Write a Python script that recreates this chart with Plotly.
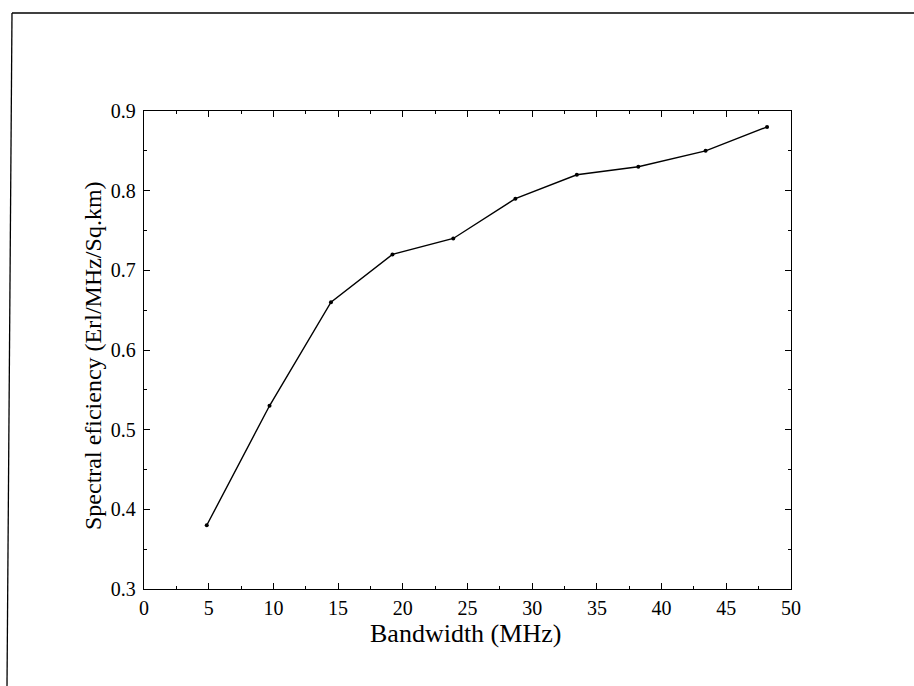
import plotly.graph_objects as go

# Spectral efficiency measured against allocated bandwidth
bandwidth_mhz = [4.85, 9.7, 14.45, 19.2, 23.9, 28.7, 33.45, 38.2, 43.4, 48.15]
spectral_eff = [0.38, 0.53, 0.66, 0.72, 0.74, 0.79, 0.82, 0.83, 0.85, 0.88]

x_ticks = [0, 5, 10, 15, 20, 25, 30, 35, 40, 45, 50]
y_ticks = [0.3, 0.4, 0.5, 0.6, 0.7, 0.8, 0.9]

W, H = 914, 686
L, R, T, B = 144, 791, 111, 589  # plot area edges in pixels

FONT = "Liberation Serif"

fig = go.Figure()
fig.add_trace(go.Scatter(
    x=bandwidth_mhz, y=spectral_eff,
    mode="lines+markers",
    line=dict(color="black", width=1.4),
    marker=dict(color="black", size=4),
    showlegend=False,
))

axis_common = dict(
    showgrid=False, zeroline=False,
    showline=True, linecolor="black", linewidth=1.3,
    mirror="allticks", ticks="inside", ticklen=6, tickcolor="black", tickwidth=1,
    tickfont=dict(family=FONT, size=20, color="black"),
)

fig.update_xaxes(
    range=[0, 50], tickvals=x_ticks,
    minor=dict(dtick=2.5, ticks="inside", ticklen=3, tickcolor="black"),
    ticklabelstandoff=1,
    **axis_common,
)
fig.update_yaxes(
    range=[0.3, 0.9], tickvals=y_ticks, tickformat=".1f",
    minor=dict(dtick=0.05, ticks="inside", ticklen=3, tickcolor="black"),
    ticklabelstandoff=3,
    **axis_common,
)


def px_x(p):
    return (p - L) / (R - L)


def px_y(p):
    return (B - p) / (B - T)


# Axis titles
fig.add_annotation(text="Bandwidth (MHz)", xref="paper", yref="paper",
                   x=px_x(465), y=px_y(633), xanchor="center", yanchor="middle",
                   showarrow=False,
                   font=dict(family=FONT, size=26, color="black"))
fig.add_annotation(text="Spectral eficiency (Erl/MHz/Sq.km)", xref="paper", yref="paper",
                   x=px_x(93), y=px_y(356), xanchor="center", yanchor="middle",
                   showarrow=False, textangle=-90,
                   font=dict(family=FONT, size=24, color="black"))

# Page frame lines along the top and left edges
fig.add_shape(type="line", xref="paper", yref="paper",
              x0=px_x(12), y0=px_y(13), x1=px_x(914), y1=px_y(13),
              line=dict(color="black", width=1.3))
fig.add_shape(type="line", xref="paper", yref="paper",
              x0=px_x(12), y0=px_y(13), x1=px_x(7), y1=px_y(686),
              line=dict(color="black", width=1.3))

fig.update_layout(
    width=W, height=H,
    margin=dict(l=L, r=W - R, t=T, b=H - B, autoexpand=False),
    paper_bgcolor="white", plot_bgcolor="white",
)

fig.write_html("out.html")
